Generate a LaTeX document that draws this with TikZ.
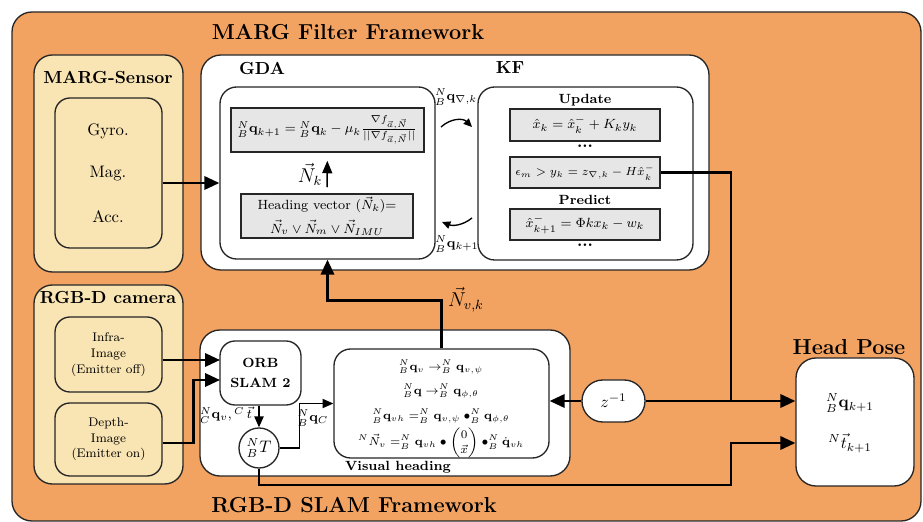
\documentclass[tikz,border=0pt]{standalone}
\usepackage{amsmath}
\usetikzlibrary{fit,arrows.meta,calc}
\definecolor{frameorange}{HTML}{F2A261}
\definecolor{sensoryellow}{HTML}{F9E5B3}
\definecolor{eqgray}{HTML}{E6E6E6}
\definecolor{edge}{HTML}{262626}
\newcommand{\titlesize}{\fontsize{13}{15}\selectfont}
\newcommand{\headsize}{\fontsize{10.5}{12.5}\selectfont}
\newcommand{\tinytext}{\fontsize{7.5}{9.4}\selectfont}
\begin{document}
\begin{tikzpicture}[x=0.6pt,y=-0.6pt,
  region/.style={draw=edge, line width=0.8pt, inner sep=0pt},
  orangebox/.style={region, fill=frameorange, rounded corners=12pt},
  yellowbox/.style={region, fill=sensoryellow, rounded corners=11pt},
  whitebox/.style={region, fill=white, rounded corners=12pt},
  innerbox/.style={region, fill=white, rounded corners=10pt},
  eqbox/.style={region, fill=eqgray, line width=0.9pt},
  heading/.style={font=\headsize\bfseries, inner sep=1pt},
  bigtitle/.style={font=\titlesize\bfseries, inner sep=1pt},
  plain/.style={inner sep=1pt, align=center},
  bigarrow/.style={line width=1.5pt, -{Triangle[length=9pt,width=8pt]}},
  bigline/.style={line width=1.5pt},
  midarrow/.style={line width=0.9pt, -{Triangle[length=6.5pt,width=5.5pt]}},
  curvearrow/.style={line width=0.8pt, -{Triangle[length=5pt,width=4.5pt]}},
]
\useasboundingbox (0,0) rectangle (923,522);

% outer framework
\node[orangebox, fit={(12,12) (921,521)}] (outer) {};
\node[bigtitle] (ttop) at (348,32) {MARG Filter Framework};
\node[bigtitle] (tbot) at (354,505) {RGB-D SLAM Framework};

% MARG sensor
\node[yellowbox, fit={(34,55) (183,272)}] (marg) {};
\node[heading] (margt) at (108,77) {MARG-Sensor};
\node[yellowbox, rounded corners=9pt, fit={(55,98) (162,248)}] (imu) {};
\node[plain] (gyro) at (108,131) {Gyro.};
\node[plain] (mag) at (108,174) {Mag.};
\node[plain] (acc) at (108,217) {Acc.};

% GDA + KF
\node[whitebox, fit={(201,55) (709,270)}] (mfw) {};
\node[heading] (gdat) at (262,68) {GDA};
\node[heading] (kft) at (510,68) {KF};
\node[innerbox, fit={(220,87) (435,259)}] (gda) {};
\node[innerbox, fit={(478,87) (693,260)}] (kf) {};

\node[eqbox, fit={(231,108) (424,152)}] (geq) {};
\node[plain, font=\footnotesize] (geqt) at (geq)
  {${}^{N}_{B}\mathbf{q}_{k+1} = {}^{N}_{B}\mathbf{q}_{k} - \mu_k \frac{\nabla f_{\vec{a},\vec{N}}}{||\nabla f_{\vec{a},\vec{N}}||}$};
\node[eqbox, fit={(241,194) (413,238)}] (hv) {};
\node[plain, font=\footnotesize] (hvt) at (hv)
  {Heading vector ($\vec{N}_k$)=\\[3.5pt] $\vec{N}_v \vee \vec{N}_m \vee \vec{N}_{IMU}$};
\draw[line width=0.9pt, -{Triangle[length=7.5pt,width=6pt]}, shorten <=3.6pt, shorten >=4.8pt] (hv) -- (geq);
\node[plain, font=\large] (nk) at (310,174) {$\vec{N}_k$};

\node[plain, font=\footnotesize\bfseries] (upd) at (585,100) {Update};
\node[eqbox, fit={(510,109) (660,141)}] (kf1) {};
\node[plain, font=\footnotesize] (kf1t) at (kf1) {$\hat{x}_k = \hat{x}_k^{-} + K_k y_k$};
\node[plain, font=\bfseries] (dots1) at (585,146) {...};
\node[eqbox, fit={(510,157) (660,188)}] (kf2) {};
\node[plain, font=\tinytext] (kf2t) at (kf2) {$\epsilon_m > y_k = z_{\nabla,k} - H\hat{x}_k^{-}$};
\node[plain, font=\footnotesize\bfseries] (pred) at (585,200) {Predict};
\node[eqbox, fit={(510,209) (660,240)}] (kf3) {};
\node[plain, font=\footnotesize] (kf3t) at (kf3) {$\hat{x}_{k+1}^{-} = \Phi k x_k - w_k$};
\node[plain, font=\bfseries] (dots2) at (585,245) {...};

% exchange between GDA and KF
\coordinate (c1) at (441,127);
\coordinate (c2) at (472,127);
\coordinate (c3) at (472,218);
\coordinate (c4) at (442,222);
\draw[curvearrow] (c1) .. controls (451,118) and (463,118) .. (c2);
\draw[curvearrow] (c3) .. controls (462,226) and (452,226) .. (c4);
\node[plain, font=\footnotesize] (qgrad) at (456,97) {${}^{N}_{B}\mathbf{q}_{\nabla,k}$};
\node[plain, font=\footnotesize] (qnext) at (457,244) {${}^{N}_{B}\mathbf{q}_{k+1}$};

% RGB-D camera
\node[yellowbox, fit={(34,285) (183,484)}] (cam) {};
\node[heading] (camt) at (108,298) {RGB-D camera};
\node[yellowbox, rounded corners=9pt, fit={(55,317) (162,392)}] (infra) {};
\node[plain, font=\tinytext] (infrat) at (infra) {Infra-\\Image\\(Emitter off)};
\node[yellowbox, rounded corners=9pt, fit={(55,403) (162,476)}] (depth) {};
\node[plain, font=\tinytext] (deptht) at (depth) {Depth-\\Image\\(Emitter on)};

% SLAM block
\node[whitebox, fit={(200,330) (570,476)}] (slam) {};
\node[innerbox, rounded corners=9pt, fit={(220,341) (301,405)}] (orb) {};
\node[plain, font=\footnotesize\bfseries] (orbt) at (orb) {ORB\\[2.5pt]SLAM 2};
\node[region, circle, fill=white, minimum size=24pt] (nbt) at (259,448) {${}^{N}_{B}T$};
\node[innerbox, fit={(334,349) (549,458)}] (vh) {};
\node[plain, font=\footnotesize\bfseries] (vht) at (398,467) {Visual heading};
\node[plain, font=\tinytext] (vh1) at (441,367) {${}^{N}_{B}\mathbf{q}_{v} \rightarrow^{N}_{B} \mathbf{q}_{v,\psi}$};
\node[plain, font=\tinytext] (vh2) at (441,391) {${}^{N}_{B}\mathbf{q} \rightarrow^{N}_{B} \mathbf{q}_{\phi,\theta}$};
\node[plain, font=\tinytext] (vh3) at (441,416) {${}^{N}_{B}\mathbf{q}_{vh} =^{N}_{B} \mathbf{q}_{v,\psi} \bullet^{N}_{B} \mathbf{q}_{\phi,\theta}$};
\node[plain, font=\tinytext] (vh4) at (441,443) {${}^{N}\vec{N}_{v} =^{N}_{B} \mathbf{q}_{vh} \bullet \begin{pmatrix}0\\ \vec{x}\end{pmatrix} \bullet^{N}_{B} \dot{\mathbf{q}}_{vh}$};

\coordinate (in1) at (220,360);
\coordinate (in2) at (220,380);
\draw[bigarrow] (infra.east |- in1) -- (in1);
\draw[bigarrow] ([yshift=-2pt]depth.east) -- ++(31,0) |- (in2);
\draw[midarrow] (orb.south -| nbt.north) -- (nbt.north);
\node[plain, font=\footnotesize] (lorb) at (226,415) {${}^{N}_{C}\mathbf{q}_{v}, {}^{C}\,\vec{t}$};
\draw[midarrow] (nbt.east) -- ++(20,0) |- (vh.west);
\node[plain, font=\footnotesize] (lqc) at (313,418) {${}^{N}_{B}\mathbf{q}_{C}$};

% visual heading back into the GDA
\draw[bigarrow] (vh.north) -- ++(0,-48) -| (gda.south);
\node[plain, font=\large] (nvk) at (466,300) {$\vec{N}_{v,k}$};

% MARG into GDA
\draw[bigarrow] ([yshift=-6pt]imu.east) -- ([yshift=-6pt]imu.east -| gda.west);

% delay and head pose
\node[region, fill=white, rounded corners=12.5pt, fit={(582,380) (645,422)}] (zinv) {};
\node[plain] (zinvt) at (zinv) {$z^{-1}$};
\node[whitebox, fit={(796,358) (914,486)}] (hp) {};
\node[bigtitle] (hpt0) at (849,347) {Head Pose};
\node[plain] (hpq) at (850,403) {${}^{N}_{B}\mathbf{q}_{k+1}$};
\node[plain] (hpt) at (850,443) {${}^{N}\vec{t}_{k+1}$};

\coordinate (kj) at (731,401);
\coordinate (tj) at (731,485);
\draw[bigline] (kf2.east) -| (kj);
\draw[bigarrow] (zinv.east) -- (zinv -| hp.west);
\draw[bigarrow] (zinv.west) -- (zinv -| vh.east);
\draw[bigarrow] (nbt.south) |- (tj) |- (hp.west |- hpt);
\end{tikzpicture}
\end{document}
